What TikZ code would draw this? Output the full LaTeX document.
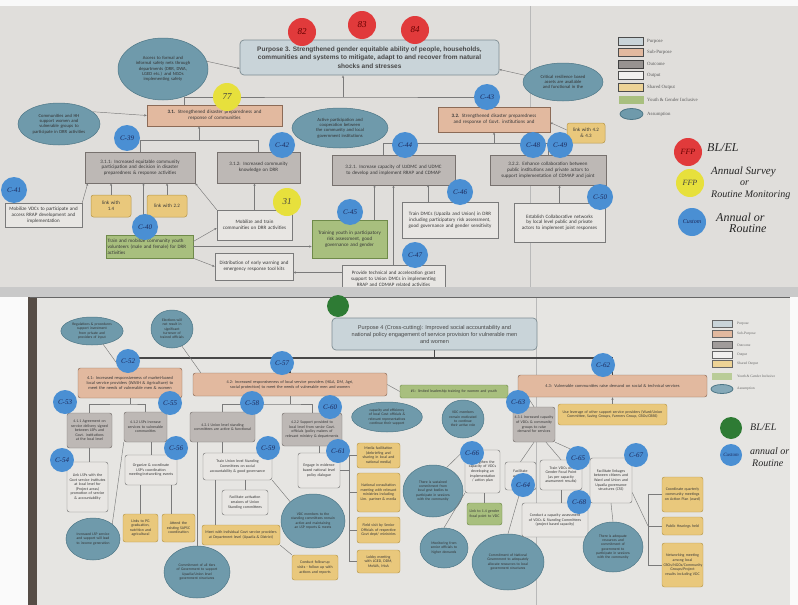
\documentclass[tikz,border=0pt]{standalone}
\usepackage{fontspec}
\setmainfont{Carlito}
\newfontfamily\arialf{Liberation Sans}
\newfontfamily\timesf{Liberation Serif}
\usetikzlibrary{shapes.geometric,arrows.meta}
\hyphenpenalty=10000
\exhyphenpenalty=10000
\definecolor{bgA}{HTML}{D9D7D4}
\definecolor{paperT}{HTML}{E0DEDB}
\definecolor{paperB}{HTML}{E6E5E2}
\definecolor{purpF}{HTML}{C9D4D9}
\definecolor{purpD}{HTML}{7E8D93}
\definecolor{subF}{HTML}{E2B99F}
\definecolor{subD}{HTML}{8C6B57}
\definecolor{outcF}{HTML}{BDB8B5}
\definecolor{outcD}{HTML}{77716E}
\definecolor{outpF}{HTML}{E8E6E3}
\definecolor{outpD}{HTML}{7A7A7A}
\definecolor{shF}{HTML}{E9C87C}
\definecolor{shD}{HTML}{B8984A}
\definecolor{yF}{HTML}{A8BF7E}
\definecolor{yD}{HTML}{6F8A4A}
\definecolor{asF}{HTML}{6F9AAB}
\definecolor{asD}{HTML}{4D7686}
\definecolor{dotB}{HTML}{4A8FD3}
\definecolor{dotT}{HTML}{1D2A5C}
\definecolor{dotR}{HTML}{E13A3B}
\definecolor{dotY}{HTML}{E7E03C}
\definecolor{dotG}{HTML}{2E7B34}
\definecolor{lineC}{HTML}{7A7A7A}
\definecolor{edgeC}{HTML}{564D46}

\newcommand\bx[7]{%
 \pgfmathsetmacro\bxw{#5-(#3)}%
 \pgfmathsetmacro\bxh{#6-(#4)}%
 \pgfmathsetmacro\bxt{#5-(#3)-3}%
 \pgfmathsetmacro\bxx{(#3+#5)/2}%
 \pgfmathsetmacro\bxy{(#4+#6)/2}%
 \node[minimum width=\bxw pt, minimum height=\bxh pt, text width=\bxt pt, inner sep=0pt, #2] (#1) at (\bxx,\bxy) {#7};}
\newcommand\el[7]{%
 \pgfmathsetmacro\elw{2*#5}\pgfmathsetmacro\elh{2*#6}\pgfmathsetmacro\elt{1.3*#5}%
 \node[asm, minimum width=\elw pt, minimum height=\elh pt, text width=\elt pt, #2] (#1) at (#3,#4) {#7};}
\newcommand\dt[6]{%
 \pgfmathsetmacro\dtd{2*#5}%
 \node[circle, inner sep=0pt, minimum size=\dtd pt, #2] (#1) at (#3,#4) {#6};}

\tikzset{
 bxs/.style={draw, line width=0.5pt, align=center, text=black!78, font=\fontsize{5.0}{5.8}\selectfont},
 sbx/.style={draw, line width=0.45pt, align=center, text=black!78, font=\fontsize{3.9}{4.6}\selectfont, rounded corners=2.5pt},
 purp/.style={fill=purpF, draw=purpD, rounded corners=4pt, line width=0.7pt},
 subp/.style={fill=subF, draw=subD},
 outc/.style={fill=outcF, draw=outcD},
 outp/.style={fill=outpF, draw=outpD},
 shar/.style={fill=shF, draw=shD, rounded corners=2.5pt},
 yth/.style={fill=yF, draw=yD},
 asm/.style={ellipse, fill=asF, draw=asD, line width=0.5pt, align=center, inner sep=0pt, text=black!80},
 tfont/.style={font=\fontsize{4.6}{5.3}\selectfont},
 bfont/.style={font=\fontsize{3.7}{4.3}\selectfont},
 dotb/.style={fill=dotB, text=dotT, font=\timesf\itshape\fontsize{7}{7}\selectfont},
 dotr/.style={fill=dotR, text=black!60!red, font=\timesf\itshape\fontsize{9}{9}\selectfont},
 doty/.style={fill=dotY, text=black!75, font=\timesf\itshape\fontsize{9}{9}\selectfont},
 dotg/.style={fill=dotG, text=black!70!green, font=\timesf\itshape\fontsize{6}{6}\selectfont},
 conn/.style={draw=lineC, line width=0.45pt, -{Stealth[length=2.6pt,width=2.2pt]}},
 ln/.style={draw=lineC, line width=0.45pt},
 trunk/.style={draw=black!72, line width=1.2pt},
 hand/.style={font=\timesf\itshape\fontsize{12}{12}\selectfont, text=black!85, anchor=west, inner sep=0pt},
 leg/.style={font=\timesf\fontsize{4.8}{5}\selectfont, text=black!65, anchor=west, inner sep=0pt},
 legb/.style={font=\timesf\fontsize{3.6}{4}\selectfont, text=black!60, anchor=west, inner sep=0pt},
 sw/.style={inner sep=0pt, line width=0.8pt},
}

\begin{document}
\begin{tikzpicture}[x=1pt,y=-1pt]
\useasboundingbox (0,0) rectangle (798,605);
% ---------- backgrounds: upper sheet ----------
\fill[bgA] (0,0) rectangle (798,605);
\fill[paperT] (0,6) rectangle (798,287);
\fill[white!95!gray] (0,0) rectangle (798,6);
\draw[gray!55, line width=0.6pt] (530,6) -- (530,287);

% ---------- Purpose 3 ----------
\node[bxs,purp,font=\arialf\bfseries\fontsize{6.5}{8.4}\selectfont,text=black!72,inner sep=0pt,minimum width=259pt,minimum height=35pt] (p3) at (369.5,57.5)
 {Purpose 3. Strengthened gender equitable ability of people, households,\\ communities and systems to mitigate, adapt to and recover from natural\\ shocks and stresses};

\el{a1}{tfont}{163}{69}{45}{31}{Access to formal and informal safety nets through departments (DRR, DWA, LGED etc.) and NGOs implementing safety}
\el{a2}{tfont}{59}{124}{41}{21}{Communities and HH support women and vulnerable groups to participate in DRR activities}
\el{a4}{tfont}{340}{128}{48}{20}{Active participation and cooperation between the community and local government institutions}
\el{a3}{tfont}{563}{82}{40}{19}{Critical resilience based assets are available and functional in the}

\bx{s31}{bxs,subp}{147}{105}{282}{126}{\textbf{3.1.} Strengthened disaster preparedness and\\ response of communities}
\bx{s32}{bxs,subp}{438}{107}{550}{132}{\textbf{3.2.} Strengthened disaster preparedness and response of Govt. institutions and}
\bx{l43}{bxs,shar}{567}{123}{605}{143}{link with 4.2\\ \& 4.3}

\bx{o311}{bxs,outc}{85}{152}{195}{183}{3.1.1: Increased equitable community participation and decision in disaster preparedness \& response activities}
\bx{o312}{bxs,outc}{217}{152}{300}{183}{3.1.2: Increased community knowledge on DRR}
\bx{o321}{bxs,outc}{332}{155}{455}{185}{3.2.1. Increase capacity of UzDMC and UDMC to develop and implement RRAP and CDMAP}
\bx{o322}{bxs,outc}{490}{155}{606}{185}{3.2.2. Enhance collaboration between public institutions and private actors to support implementation of CDMAP and joint}

\bx{u1}{bxs,outp}{5}{203}{82}{227}{Mobilize VDCs to participate and\\ access RRAP development and\\ implementation}
\bx{l14}{bxs,shar}{91}{195}{131}{217}{link with\\ 1.4}
\bx{l22}{bxs,shar}{147}{195}{187}{217}{link with 2.2}
\bx{g1}{bxs,yth,align=left}{106}{235}{193}{258}{Train and mobilize community youth volunteers (male and female) for DRR activities}
\bx{u2}{bxs,outp}{217}{210}{292}{240}{Mobilize and train communities on DRR activities}
\bx{g2}{bxs,yth}{312}{220}{387}{258}{Training youth in participatory risk assessment, good governance and gender}
\bx{u3}{bxs,outp}{402}{202}{498}{238}{Train DMCs (Upazila and Union) in DRR including participatory risk assessment, good governance and gender sensitivity}
\bx{u4}{bxs,outp}{215}{253}{293}{280}{Distribution of early warning and emergency response tool kits}
\bx{u5}{bxs,outp}{342}{265}{445}{292}{Provide technical and acceleration grant support to Union DMCs in implementing RRAP and CDMAP related activities}
\bx{u6}{bxs,outp}{514}{203}{605}{242}{Establish Collaborative networks by local level public and private actors to implement joint responses}

% connectors upper
\draw[conn] (a1.10) -- ([yshift=-11pt]p3.west);
\draw[conn] (a2.20) -- (s31.west);
\draw[conn] (a3.170) -- ([yshift=-12pt]p3.east);
\coordinate (j0) at (343,97);
\draw[ln] ([xshift=-30pt]s31.north) |- (j0) -| (s32.north);
\draw[conn] (j0) -- (j0 |- p3.south);
\coordinate (j1) at (199,140);
\draw[ln] (o311.north) |- (j1);
\draw[ln] (o312.north) |- (j1);
\draw[conn] (j1) -- (j1 |- s31.south);
\coordinate (j2) at (494,143);
\draw[ln] ([xshift=-10pt]o321.north) |- (j2);
\draw[ln] (o322.north) |- (j2);
\draw[conn] (j2) -- (j2 |- s32.south);
\draw[conn] (u1.north east) -- ([xshift=3pt]o311.south west);
\draw[conn] (l14.north) -- (l14.north |- o311.south);
\draw[conn] (l22.north) -- (l22.north |- o311.south);
\draw[conn] ([xshift=-6pt]g1.north) -- ++(0,-52);
\draw[conn] (u2.north west) -- (o311.south east);
\draw[conn] (u2.north) -- (u2.north |- o312.south);
\draw[conn] (g1.east) -- (g1.east -| g2.west);
\draw[conn] ([yshift=5pt]g1.east) -- ([yshift=-3pt]u2.west);
\draw[conn] (g1.south east) -- (u4.west);
\draw[conn] ([xshift=25pt]g2.north) -- ++(0,-35);
\draw[conn] (u5.north) -- (u5.north |- o321.south);
\draw[conn] ([xshift=-22pt]u3.north) -- ++(0,-17);
\draw[conn] ([yshift=6pt]u5.west) -- ([yshift=6pt]u5.west -| u4.east);
\draw[conn] (u6.north) -- (u6.north |- o322.south);
\draw[conn] ([yshift=3pt]l43.west) -- ([yshift=-3pt]s32.east);

% dots upper
\dt{r82}{dotr}{302}{32}{14}{82}
\dt{r83}{dotr}{362}{25}{14}{83}
\dt{r84}{dotr}{415}{30}{14}{84}
\dt{y77}{doty}{227}{97}{14}{77}
\dt{c43}{dotb}{487}{97}{13}{C-43}
\dt{c39}{dotb}{127}{138}{13}{C-39}
\dt{c42}{dotb}{282}{145}{13}{C-42}
\dt{c44}{dotb}{405}{145}{13}{C-44}
\dt{c48}{dotb}{533}{145}{13}{C-48}
\dt{c49}{dotb}{560}{145}{13}{C-49}
\dt{c41}{dotb}{14}{190}{13}{C-41}
\dt{c40}{dotb}{145}{227}{13}{C-40}
\dt{y31}{doty}{287}{202}{14}{31}
\dt{c45}{dotb}{350}{212}{13}{C-45}
\dt{c46}{dotb}{460}{192}{13}{C-46}
\dt{c47}{dotb}{415}{255}{13}{C-47}
\dt{c50}{dotb}{600}{197}{13}{C-50}

% legend upper
\node[sw,draw=black!70,fill=purpF,minimum width=25pt,minimum height=8pt] (lg1) at (630.5,41) {};
\node[sw,draw=black!70,fill=subF,minimum width=25pt,minimum height=8pt] (lg2) at (630.5,52) {};
\node[sw,draw=black!75,fill=outcF!80!black,minimum width=25pt,minimum height=8pt] (lg3) at (630.5,64) {};
\node[sw,draw=black!70,fill=outpF!60!white,minimum width=25pt,minimum height=8pt] (lg4) at (630.5,75) {};
\node[sw,draw=black!70,fill=shF!80!white,minimum width=25pt,minimum height=8pt] (lg5) at (630.5,87) {};
\node[sw,fill=yF,minimum width=25pt,minimum height=8pt] (lg6) at (631,100) {};
\node[sw,ellipse,draw=asD,fill=asF,minimum width=23pt,minimum height=11pt] (lg7) at (631.5,114) {};
\node[leg] (lt1) at (647,41) {Purpose};
\node[leg] (lt2) at (647,52) {Sub-Purpose};
\node[leg] (lt3) at (647,64) {Outcome};
\node[leg] (lt4) at (647,75) {Output};
\node[leg] (lt5) at (647,87) {Shared Output};
\node[leg] (lt6) at (647,100) {Youth \& Gender Inclusive};
\node[leg] (lt7) at (647,114) {Assumption};

% handwritten notes upper
\dt{hr}{dotr,font=\timesf\itshape\fontsize{8}{8}\selectfont}{688}{152}{14}{FFP}
\node[hand] (hrt) at (707,148) {BL/EL};
\dt{hy}{doty,font=\timesf\itshape\fontsize{8}{8}\selectfont}{690}{183}{14}{FFP}
\node[hand,font=\timesf\itshape\fontsize{11}{11}\selectfont] (hyt1) at (711,172) {Annual Survey};
\node[hand,font=\timesf\itshape\fontsize{10}{10}\selectfont] (hyt2) at (740,183.5) {or};
\node[hand,font=\timesf\itshape\fontsize{10}{10}\selectfont] (hyt3) at (711,195) {Routine Monitoring};
\dt{hb}{dotb,font=\timesf\itshape\fontsize{6}{6}\selectfont}{692}{222}{14}{Custom}
\node[hand] (hbt1) at (716,217) {Annual or};
\node[hand] (hbt2) at (729,229) {Routine};

% ---------- lower sheet ----------
\fill[gray!42!white] (0,287) rectangle (798,297);
\fill[white!96!gray] (0,297) rectangle (30,605);
\fill[edgeC] (28,297) rectangle (37,605);
\fill[paperB] (37,297) rectangle (790,605);
\fill[white!96!gray] (790,297) rectangle (798,605);
\draw[black!60, line width=1pt] (30,297.5) -- (790,297.5);
\draw[gray!55, line width=0.6pt] (536,298) -- (536,605);

\node[bxs,purp,font=\arialf\fontsize{5.6}{7}\selectfont,text=black!72,inner sep=0pt,minimum width=205pt,minimum height=32pt] (p4) at (434.5,334)
 {Purpose 4 (Cross-cutting): Improved social accountability and\\ national policy engagement of service provision for vulnerable men\\ and women};

\el{b1}{bfont,text width=44pt}{92}{331}{30}{14}{Regulations \& procedures support investment from private and providers of input}
\el{b2}{bfont,text width=26pt}{172}{329}{21}{19}{Elections will not result in significant turnover of trained officials}

\bx{s41}{sbx,subp,font=\fontsize{4.4}{5.1}\selectfont}{78}{368}{182}{398}{4.1: Increased responsiveness of market-based local service providers (WASH \& Agriculture) to meet the needs of vulnerable men \& women}
\bx{s42}{sbx,subp,font=\fontsize{4.2}{5}\selectfont}{193}{373}{387}{396}{4.2: Increased responsiveness of local service providers (H\&A, DM, Agri, social protection) to meet the needs of vulnerable men and women}
\bx{gb}{sbx,yth,rounded corners=1.5pt}{400}{385}{508}{398}{\#1: limited leadership training for women and youth}
\bx{s43}{sbx,subp,font=\fontsize{4.4}{5.1}\selectfont}{518}{375}{707}{397}{4.3: Vulnerable communities raise demand on social \& technical services}
\bx{sh43}{sbx,shar}{558}{404}{667}{425}{Use leverage of other support service providers (Ward/Union Committee, Saving Groups, Farmers Group, CBOs/CBBS)}

\bx{o411}{sbx,outc}{67}{413}{112}{448}{4.1.1 Agreement on service delivery signed between LSPs and Govt. institutions at the local level}
\bx{o412}{sbx,outc}{124}{412}{167}{442}{4.1.2 LSPs increase services to vulnerable communities}
\bx{o421}{sbx,outc}{190}{412}{255}{442}{4.2.1 Union level standing committees are active \& functional}
\bx{o422}{sbx,outc}{282}{413}{342}{446}{4.2.2 Support provided to local level from senior Govt. officials (policy makers of relevant ministry \& departments}
\el{c1}{bfont,text width=50pt}{387}{417}{33}{15}{capacity and efficiency of local Govt officials \& relevant representatives continue their support}
\el{c2}{bfont,text width=28pt}{463}{419}{21}{19}{VDC members remain motivated to continue their active role}
\bx{o431}{sbx,outc}{513}{407}{555}{442}{4.3.1 Increased capacity of VDCs \& community groups to raise demand for services}

\bx{lnk}{sbx,outp}{67}{462}{108}{512}{Link LSPs with the Govt service institutes at local level for (Project areas) promotion of service \& accountability}
\el{d1}{bfont,text width=38pt}{93}{539}{27}{21}{Increased LSP service and support will lead to income generation}
\bx{org}{sbx,outp}{125}{455}{177}{485}{Organize \& coordinate LSP's coordination meeting/networking events}
\bx{yl1}{sbx,shar}{123}{514}{158}{542}{Links to PG graduation, nutrition and agricultural}
\bx{yl2}{sbx,shar}{162}{514}{195}{542}{Attend the existing SAPSC coordination}
\el{d2}{bfont,text width=44pt}{197}{572}{33}{26}{Commitment of all tiers of Government to support Upazila/Union level government structures}
\bx{tu}{sbx,outp}{203}{453}{272}{480}{Train Union level Standing Committees on social accountability \& good governance}
\bx{fa}{sbx,outp}{222}{490}{268}{515}{Facilitate activation sessions of Union Standing committees}
\bx{ym}{sbx,shar}{202}{525}{280}{545}{Meet with Individual Govt service providers at Department level (Upazila \& District)}
\bx{eng}{sbx,outp}{298}{453}{340}{488}{Engage in evidence based national level policy dialogue}
\el{d3}{bfont,text width=44pt}{313}{521}{32}{27}{VDC members to the standing committees remain active and maintaining an LSP reports \& meets}
\bx{fu}{sbx,shar}{292}{555}{338}{580}{Conduct follow-up visits - follow up with actions and reports}
\bx{y1}{sbx,shar}{357}{443}{400}{468}{Media facilitation (debriefing and sharing in local and national media)}
\bx{y2}{sbx,shar}{357}{473}{400}{512}{National consultation meeting with relevant ministries including Lim. partner \& media}
\bx{y3}{sbx,shar}{357}{517}{400}{543}{Field visit by Senior Officials of respective Govt dept/ ministries}
\bx{y4}{sbx,shar}{357}{550}{400}{573}{Lobby meeting with LGED, DDM, MoWA, MoA}
\el{d4}{bfont,text width=40pt}{433}{491}{30}{26}{There is sustained commitment from local govt bodies to participate in sessions with the community}
\bx{vdc}{sbx,outp}{465}{450}{500}{493}{Strengthen the capacity of VDCs developing an implementation / action plan}
\bx{gr}{sbx,yth}{467}{503}{502}{525}{Link to 1.4 gender focal point to VDC}
\el{d5}{bfont,text width=32pt}{444}{548}{24}{20}{Monitoring from senior officials to higher demands}
\el{d6}{bfont,text width=46pt}{508}{562}{36}{28}{Commitment of National Government to adequately allocate resources to local government structures}
\bx{fav}{sbx,outp}{505}{462}{536}{490}{Facilitate activation of VDCs}
\bx{tvd}{sbx,outp}{540}{460}{582}{490}{Train VDCs on Gender Focal Point (as per capacity assessment results)}
\bx{cap}{sbx,outp}{522}{503}{588}{537}{Conduct a capacity assessment of VDCs \& Standing Committees (project based capacity)}
\bx{fl}{sbx,outp}{590}{458}{632}{503}{Facilitate linkages between citizens and Ward and Union and Upazila governance structures (CSS)}
\el{d7}{bfont,text width=40pt}{613}{547}{30}{25}{There is adequate resources and commitment of government to participate in sessions with the community}
\bx{q1}{sbx,shar}{662}{477}{703}{512}{Coordinate quarterly community meetings on Action Plan (ward)}
\bx{q2}{sbx,shar}{662}{517}{703}{535}{Public Hearings held}
\bx{q3}{sbx,shar}{662}{543}{703}{587}{Networking meeting among local CBOs/NGOs/Community Groups/Project results including VDC}

% connectors lower
\coordinate (tl) at (0,358);
\draw[trunk] (s41.north) -- (s41.north |- tl) -- (s43.north |- tl) -- (s43.north);
\draw[trunk] (p4.south) -- (p4.south |- tl);
\draw[trunk] (s42.north) -- (s42.north |- tl);
\draw[ln] (b1.-50) -- ([xshift=-10pt]s41.north);
\draw[ln] (b2.-60) -- ([xshift=8pt]s42.north west);
\coordinate (t2) at (0,404);
\draw[ln] (o411.north) |- (s41.south |- t2) -| (o412.north);
\draw[ln] (s41.south) -- (s41.south |- t2);
\draw[ln] (o421.north) |- (s42.south |- t2) -| (o422.north);
\draw[ln] (s42.south) -- (s42.south |- t2);
\draw[ln] (s42.east) -- (gb.west);
\draw[ln] ([xshift=10pt]s43.south west) -- (o431.north);
\draw[conn] (sh43.north) -- (sh43.north |- s43.south);
\draw[ln] (o411.south) -- (o411.south |- lnk.north);
\draw[ln] (org.north) -- (org.north |- o412.south);
\draw[ln] (o412.south west) -- (d1.north east);
\draw[ln] (yl1.north) -- (yl1.north |- org.south);
\draw[ln] ([xshift=-7pt]yl2.north) -- ++(0,-29);
\draw[ln] (d2.north) -- (d2.north |- o421.south);
\draw[ln] (o421.south) -- (tu.north -| o421.south);
\draw[ln] (fa.north) -- (fa.north |- tu.south);
\draw[ln] ([xshift=12pt]tu.south west) -- ++(0,45);
\draw[ln] (eng.north) -- (eng.north |- o422.south);
\draw[ln] (tu.south east) -- (d3.north west);
\draw[ln] (ym.south east) -- (fu.north west);
\coordinate (bxa) at (349,0);
\draw[ln] (bxa |- y1.west) -- (bxa |- y4.west);
\foreach \n in {y1,y2,y3,y4} \draw[ln] (\n.west) -- (\n.west -| bxa);
\draw[ln] (eng.east) -- (eng.east -| bxa);
\draw[ln] (d4.60) -- (vdc.north west);
\draw[ln] (gr.north) -- (gr.north |- vdc.south);
\draw[ln] (vdc.south west) -- (d5.north);
\draw[ln] (fav.south) -- (d6.north);
\draw[ln] (o431.south) -- (fav.north);
\draw[ln] ([xshift=12pt]o431.south) -- (tvd.north);
\draw[ln] (o431.south east) -- (fl.north west);
\draw[ln] (tvd.south) -- (tvd.south |- cap.north);
\draw[ln] (fl.south) -- (d7.north);
\coordinate (bxb) at (648,0);
\draw[ln] (bxb |- q1.west) -- (bxb |- q3.west);
\foreach \n in {q1,q2,q3} \draw[ln] (\n.west) -- (\n.west -| bxb);
\draw[ln] ([yshift=-12pt]fl.east) -- (bxb |- q2.west);

% dots lower
\dt{g56}{dotg}{338}{306}{11}{}
\dt{c52}{dotb}{128}{361}{12}{C-52}
\dt{c57}{dotb}{282}{363}{12}{C-57}
\dt{c62}{dotb}{603}{365}{12}{C-62}
\dt{c53}{dotb}{65}{402}{12}{C-53}
\dt{c55}{dotb}{170}{403}{12}{C-55}
\dt{c58}{dotb}{252}{403}{12}{C-58}
\dt{c60}{dotb}{330}{407}{12}{C-60}
\dt{c63}{dotb}{518}{402}{12}{C-63}
\dt{c54}{dotb}{62}{460}{12}{C-54}
\dt{c56}{dotb}{176}{448}{12}{C-56}
\dt{c59}{dotb}{268}{448}{12}{C-59}
\dt{c61}{dotb}{338}{451}{12}{C-61}
\dt{c66}{dotb}{472}{453}{12}{C-66}
\dt{c64}{dotb}{523}{485}{12}{C-64}
\dt{c65}{dotb}{578}{458}{12}{C-65}
\dt{c67}{dotb}{636}{455}{12}{C-67}
\dt{c68}{dotb}{579}{502}{12}{C-68}

% legend lower
\node[sw,draw=black!60,fill=purpF,minimum width=20pt,minimum height=7pt] (lh1) at (722,324) {};
\node[sw,draw=black!60,fill=subF,minimum width=20pt,minimum height=7pt] (lh2) at (722,334) {};
\node[sw,draw=black!65,fill=outcF!85!black,minimum width=20pt,minimum height=7pt] (lh3) at (722,345) {};
\node[sw,draw=black!60,fill=outpF!60!white,minimum width=20pt,minimum height=7pt] (lh4) at (722,355) {};
\node[sw,draw=black!60,fill=shF!80!white,minimum width=20pt,minimum height=7pt] (lh5) at (722,364) {};
\node[sw,fill=yF!80!white,minimum width=20pt,minimum height=7pt] (lh6) at (722,376) {};
\node[sw,ellipse,draw=asD,fill=asF!85!white,minimum width=22pt,minimum height=9pt] (lh7) at (722,389) {};
\node[legb] (lu1) at (737,324) {Purpose};
\node[legb] (lu2) at (737,334) {Sub-Purpose};
\node[legb] (lu3) at (737,345) {Outcome};
\node[legb] (lu4) at (737,355) {Output};
\node[legb] (lu5) at (737,364) {Shared Output};
\node[legb] (lu6) at (737,376) {Youth \& Gender Inclusive};
\node[legb] (lu7) at (737,389) {Assumption};

\dt{hg}{dotg}{731}{428}{11}{}
\node[hand,font=\timesf\itshape\fontsize{10}{10}\selectfont] (hgt) at (750,427) {BL/EL};
\dt{hb2}{dotb,font=\timesf\itshape\fontsize{5}{5}\selectfont}{731}{455}{11}{Custom}
\node[hand,font=\timesf\itshape\fontsize{10}{10}\selectfont] (hb2t1) at (750,451) {annual or};
\node[hand,font=\timesf\itshape\fontsize{10}{10}\selectfont] (hb2t2) at (752,463) {Routine};
\end{tikzpicture}
\end{document}
